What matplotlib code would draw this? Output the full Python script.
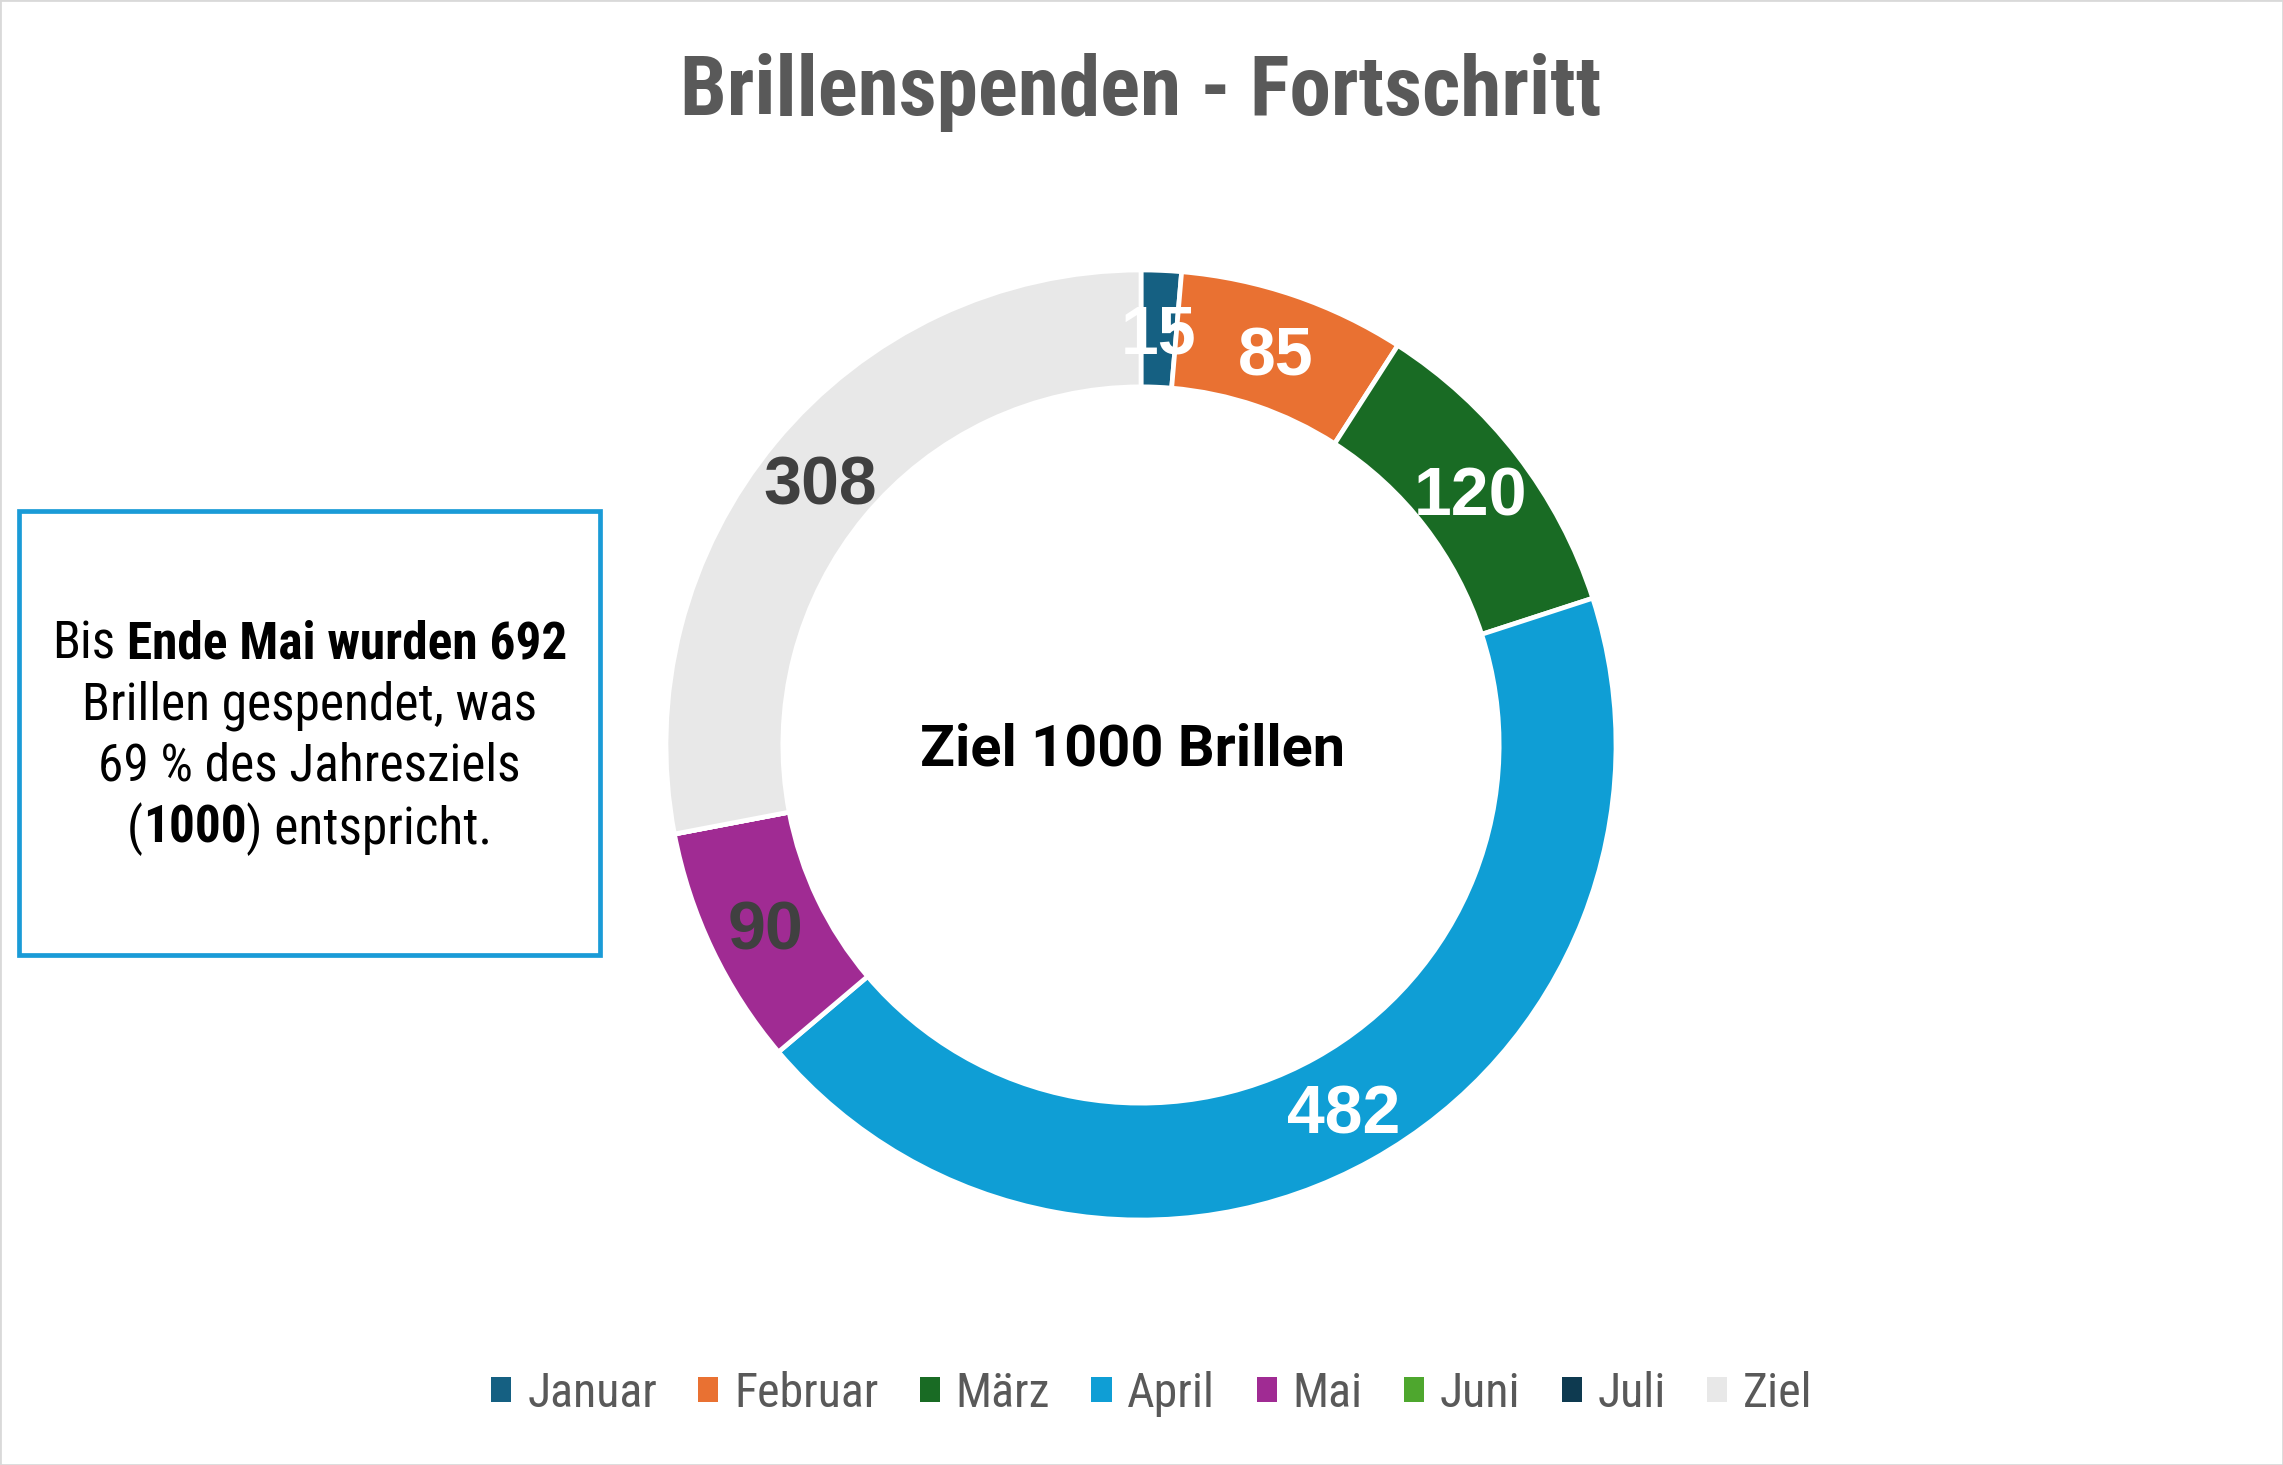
import matplotlib
matplotlib.use("Agg")
import matplotlib.pyplot as plt
from matplotlib import font_manager as fm
from matplotlib.patches import Rectangle, Patch
import numpy as np

# ---------------- data ----------------
categories = ["Januar", "Februar", "März", "April", "Mai", "Juni", "Juli", "Ziel"]
values = [15, 85, 120, 482, 90, 0, 0, 308]
colors = ["#156082", "#E97132", "#196B24", "#0F9ED5", "#A02B93", "#4EA72E", "#0E3A50", "#E8E8E8"]
label_colors = ["white", "white", "white", "white", "#404040", "white", "white", "#404040"]
title = "Brillenspenden - Fortschritt"
center_text = "Ziel 1000 Brillen"
box_lines = [
    [("Bis ", "normal"), ("Ende Mai wurden 692", "bold")],
    [("Brillen gespendet, was", "normal")],
    [("69 % des Jahresziels", "normal")],
    [("(", "normal"), ("1000", "bold"), (") entspricht.", "normal")],
]

W, H, DPI = 2283, 1465, 100
fig = plt.figure(figsize=(W / DPI, H / DPI), dpi=DPI)
fig.patch.set_facecolor("white")

names = {f.name for f in fm.fontManager.ttflist}


def pick(*cands):
    for c in cands:
        if c in names:
            return c
    return "DejaVu Sans"


NARROW = pick("Liberation Sans Narrow", "DejaVu Sans Condensed", "Roboto Condensed", "Liberation Sans")
ARIAL = pick("Liberation Sans", "Arimo", "DejaVu Sans")
SANS = pick("Roboto", "Liberation Sans")

# outer border
fig.add_artist(Rectangle((0, 0), 1, 1, transform=fig.transFigure, fill=False,
                         edgecolor="#D9D9D9", linewidth=2))

# ---------------- donut ----------------
cx, cy, R = 1141, 745, 475
ring = 0.246
ax = fig.add_axes([(cx - R) / W, (H - cy - R) / H, 2 * R / W, 2 * R / H])
wedges, _ = ax.pie(values, colors=colors, startangle=90, counterclock=False, radius=1,
                   wedgeprops=dict(width=ring, edgecolor="white", linewidth=3.4))
ax.set_xlim(-1, 1)
ax.set_ylim(-1, 1)
ax.axis("off")

for w, v, lc in zip(wedges, values, label_colors):
    if v <= 0:
        continue
    th = np.deg2rad((w.theta1 + w.theta2) / 2)
    r = 1 - ring / 2
    ax.text(r * np.cos(th), r * np.sin(th), str(v), ha="center", va="center_baseline",
            fontsize=49, fontweight="bold", color=lc, family=ARIAL)

fig.text(1133 / W, 1 - 744 / H, center_text, ha="center", va="center_baseline",
         fontsize=41.5, fontweight="bold", color="black", family=SANS)

# ---------------- title ----------------
fig.text(1141 / W, 1 - 84 / H, title, ha="center", va="center_baseline",
         fontsize=60, fontweight="bold", color="#595959", family=NARROW)

# ---------------- text box ----------------
bx0, by0, bx1, by1 = 19, 511, 600, 955
fig.add_artist(Rectangle((bx0 / W, 1 - by1 / H), (bx1 - bx0) / W, (by1 - by0) / H,
                         transform=fig.transFigure, fill=False, edgecolor="#1A9BD7", linewidth=3.4))

renderer = fig.canvas.get_renderer()
box_size = 37
line_y = [639, 700, 761, 823]
bxc = (bx0 + bx1) / 2


def text_w(s, weight):
    t = fig.text(0, 0, s, fontsize=box_size, fontweight=weight, family=NARROW)
    wpx = t.get_window_extent(renderer).width
    t.remove()
    return wpx


sp_w = text_w("a a", "normal") - text_w("aa", "normal")
for segs, yy in zip(box_lines, line_y):
    pieces = []
    for s, wt in segs:
        lead = len(s) - len(s.lstrip(" "))
        trail = len(s) - len(s.rstrip(" "))
        core = s.strip(" ")
        pieces.append((core, wt, lead, trail, text_w(core, wt)))
    total = sum(p[4] + (p[2] + p[3]) * sp_w for p in pieces)
    x = bxc - total / 2
    for core, wt, lead, trail, wpx in pieces:
        x += lead * sp_w
        fig.text(x / W, 1 - yy / H, core, ha="left", va="center_baseline", fontsize=box_size,
                 fontweight=wt, family=NARROW, color="black")
        x += wpx + trail * sp_w

# ---------------- legend ----------------
handles = [Patch(facecolor=w.get_facecolor(), edgecolor="none") for w in wedges]
leg_fs = 34.5
fig.legend(handles, categories, loc="center", bbox_to_anchor=(1152 / W, 1 - 1394 / H),
           ncol=len(categories), frameon=False, handlelength=0.42, handleheight=0.42,
           handletextpad=0.33, columnspacing=0.86,
           prop=dict(family=NARROW, size=leg_fs), labelcolor="#595959")

fig.savefig("out.png", dpi=DPI, facecolor="white")
